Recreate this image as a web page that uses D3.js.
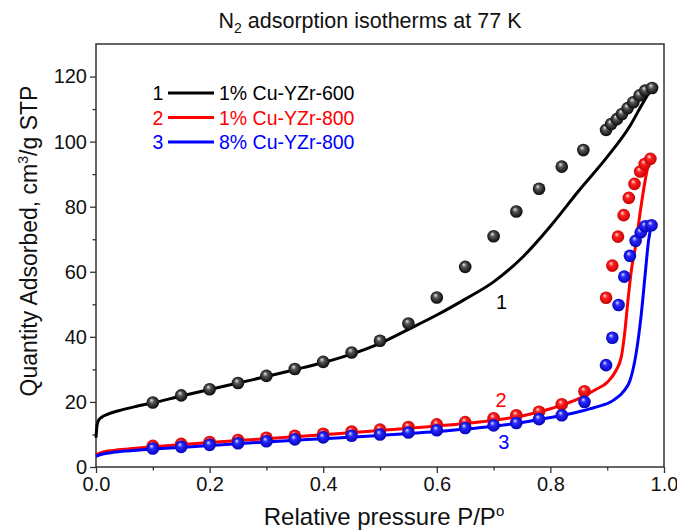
<!DOCTYPE html>
<html>
<head>
<meta charset="utf-8">
<script src="https://cdn.jsdelivr.net/npm/d3@7"></script>
<style>
  body { margin: 0; background: #fff; }
  svg { display: block; font-family: "Liberation Sans", Arial, sans-serif; }
</style>
</head>
<body>
<svg id="chart" width="677" height="531"></svg>
<script>
// series labels and colours
const names = ["1% Cu-YZr-600", "1% Cu-YZr-800", "8% Cu-YZr-800"];
const numbers = ["1", "2", "3"];
const colors = ["#000000", "#ff0000", "#0000ff"];

// fitted lines, [P/Po, quantity]
const line_600 = [[0,9],[0.002,13],[0.005,14.5],[0.01,15.3],[0.02,16.2],[0.04,17.3],[0.07,18.6],[0.1,19.7],
  [0.15,21.8],[0.2,23.8],[0.25,25.8],[0.3,27.8],[0.35,29.9],[0.4,32.1],[0.45,34.7],[0.5,38.0],[0.55,42.3],
  [0.6,46.7],[0.65,51.6],[0.7,56.9],[0.75,64.3],[0.8,74.0],[0.85,84.9],[0.9,95.3],[0.94,104.8],[0.96,111],
  [0.97,114],[0.978,116.4]];
const line_800 = [[0,3.8],[0.01,4.5],[0.03,5.1],[0.06,5.6],[0.1,6.2],[0.2,7.5],[0.3,8.7],[0.4,9.9],[0.5,11.2],
  [0.6,12.6],[0.7,14.4],[0.75,15.7],[0.8,17.9],[0.85,21.0],[0.88,23.8],[0.9,26.0],[0.915,29.5],[0.925,34],
  [0.93,40],[0.937,52],[0.943,61],[0.95,68],[0.957,77],[0.963,84],[0.97,91],[0.976,94.8]];
const line_8_800 = [[0,3.3],[0.01,3.9],[0.03,4.5],[0.06,5.0],[0.1,5.5],[0.2,6.6],[0.3,7.7],[0.4,8.7],[0.5,9.7],
  [0.6,10.9],[0.7,12.5],[0.75,13.7],[0.8,15.2],[0.85,17.0],[0.88,18.4],[0.91,20.4],[0.93,23.5],[0.94,26.5],
  [0.951,35],[0.96,47],[0.967,59.5],[0.973,69.8],[0.978,74.3]];

// measured points
const pts_600 = [[0.1,19.8],[0.15,22.0],[0.2,23.9],[0.25,25.8],[0.3,28.0],[0.35,30.1],[0.4,32.3],[0.45,35.2],
  [0.5,38.8],[0.55,44.1],[0.6,52.1],[0.65,61.5],[0.7,70.9],[0.74,78.5],[0.78,85.5],[0.82,92.3],[0.858,97.4],
  [0.898,103.6],[0.907,105.4],[0.917,106.9],[0.926,108.5],[0.936,110.3],[0.946,112.1],[0.957,114.2],
  [0.967,115.7],[0.979,116.5]];
const pts_800 = [[0.1,6.5],[0.15,7.1],[0.2,7.7],[0.25,8.3],[0.3,9.0],[0.35,9.6],[0.4,10.2],[0.45,10.9],[0.5,11.5],
  [0.55,12.3],[0.6,13.1],[0.65,13.8],[0.7,15.0],[0.74,15.9],[0.78,17.0],[0.82,19.3],[0.86,23.3],[0.898,52],
  [0.909,61.9],[0.919,70.8],[0.929,77.4],[0.938,82.7],[0.948,87],[0.958,90.8],[0.966,93.1],[0.976,94.7]];
const pts_8_800 = [[0.1,5.7],[0.15,6.2],[0.2,6.8],[0.25,7.3],[0.3,7.9],[0.35,8.5],[0.4,9.1],[0.45,9.6],[0.5,10.0],
  [0.55,10.6],[0.6,11.3],[0.65,12.0],[0.7,12.8],[0.74,13.5],[0.78,14.7],[0.82,15.9],[0.86,20.0],[0.898,31.3],
  [0.909,39.7],[0.92,49.8],[0.93,58.5],[0.94,64.9],[0.95,69.5],[0.959,72.1],[0.967,74.0],[0.978,74.3]];

// where the curve numbers sit, [P/Po, quantity]
const curve_tags = [[0.714, 48.6], [0.713, 18.5], [0.718, 5.6]];

const x_major = [0, 0.2, 0.4, 0.6, 0.8, 1.0];
const x_minor = [0.1, 0.3, 0.5, 0.7, 0.9];
const y_major = [0, 20, 40, 60, 80, 100, 120];
const y_minor = [10, 30, 50, 70, 90, 110];

const lines = [line_600, line_800, line_8_800];
const points = [pts_600, pts_800, pts_8_800];

const marginLeft = 96, marginRight = 13, marginTop = 44, marginBottom = 64;
const W = 677, H = 531;

const svg = d3.select("#chart");

const x = d3.scaleLinear().domain([0, 1]).range([marginLeft, W - marginRight]);
const y = d3.scaleLinear().domain([0, 130]).range([H - marginBottom, marginTop]);

// sphere gradients
const defs = svg.append("defs");
const shades = [["#e8e8e8", "#555", "#000"], ["#ffe0e0", "#ff2020", "#c00000"], ["#e0e0ff", "#2828ff", "#0000b0"]];
shades.forEach((s, i) => {
  const g = defs.append("radialGradient").attr("id", "ball" + i)
    .attr("cx", "50%").attr("cy", "50%").attr("r", "55%")
    .attr("fx", "38%").attr("fy", "30%");
  g.append("stop").attr("offset", "0%").attr("stop-color", s[0]);
  g.append("stop").attr("offset", "35%").attr("stop-color", s[1]);
  g.append("stop").attr("offset", "100%").attr("stop-color", s[2]);
});

// axes
const tick_font = 20;
svg.append("g").attr("transform", `translate(0,${y(0)})`)
  .call(d3.axisBottom(x).tickValues(x_major).tickSize(6).tickSizeOuter(0).tickPadding(4).tickFormat(d3.format(".1f")));
svg.append("g").attr("transform", `translate(0,${y(0)})`)
  .call(d3.axisBottom(x).tickValues(x_minor).tickSize(3.5).tickSizeOuter(0).tickFormat(""));
svg.append("g").attr("transform", `translate(${x(0)},0)`)
  .call(d3.axisLeft(y).tickValues(y_major).tickSize(6).tickSizeOuter(0).tickPadding(3));
svg.append("g").attr("transform", `translate(${x(0)},0)`)
  .call(d3.axisLeft(y).tickValues(y_minor).tickSize(3.5).tickSizeOuter(0).tickFormat(""));

svg.selectAll(".domain").remove();
svg.selectAll(".tick line").attr("stroke", "#333").attr("stroke-width", 1.3);
svg.selectAll(".tick text").attr("font-size", tick_font).attr("fill", "#111")
  .attr("font-family", "'Liberation Sans', Arial, sans-serif");

// frame
svg.append("rect")
  .attr("x", x(0)).attr("y", y(130))
  .attr("width", x(1) - x(0)).attr("height", y(0) - y(130))
  .attr("fill", "none").attr("stroke", "#333").attr("stroke-width", 1.5);

// lines and balls
const line = d3.line().x(d => x(d[0])).y(d => y(d[1])).curve(d3.curveMonotoneX);
const plot = svg.append("g");

lines.forEach((data, i) => {
  plot.append("path").datum(data)
    .attr("d", line)
    .attr("fill", "none")
    .attr("stroke", colors[i])
    .attr("stroke-width", 3);
});
points.forEach((data, i) => {
  plot.selectAll(".ball" + i).data(data).enter().append("circle")
    .attr("class", "ball" + i)
    .attr("cx", d => x(d[0]))
    .attr("cy", d => y(d[1]))
    .attr("r", 6.3)
    .attr("fill", `url(#ball${i})`);
});

// curve numbers
svg.selectAll(".tag").data(curve_tags).enter().append("text")
  .attr("class", "tag")
  .attr("x", d => x(d[0])).attr("y", d => y(d[1]))
  .attr("text-anchor", "middle")
  .attr("font-size", 20)
  .attr("fill", (d, i) => colors[i])
  .text((d, i) => numbers[i]);

// legend
const legend = svg.append("g");
names.forEach((name, i) => {
  const cy = 93 + i * 24.5;
  const row = legend.append("g").attr("fill", colors[i]);
  row.append("text").attr("x", 158).attr("y", cy + 7).attr("text-anchor", "middle")
    .attr("font-size", 19.5).text(numbers[i]);
  row.append("line").attr("x1", 168).attr("x2", 214).attr("y1", cy).attr("y2", cy)
    .attr("stroke", colors[i]).attr("stroke-width", 3);
  row.append("text").attr("x", 219).attr("y", cy + 7).attr("font-size", 19.5).text(name);
});

// title
const title = svg.append("text")
  .attr("x", 370).attr("y", 28)
  .attr("text-anchor", "middle")
  .attr("font-size", 21.5).attr("fill", "#111");
title.append("tspan").text("N");
title.append("tspan").attr("font-size", 14).attr("dy", 5).text("2");
title.append("tspan").attr("dy", -5).text(" adsorption isotherms at 77 K");

// axis titles
const xt = svg.append("text")
  .attr("x", 384).attr("y", 525)
  .attr("text-anchor", "middle")
  .attr("font-size", 24).attr("fill", "#111");
xt.append("tspan").text("Relative pressure P/P");
xt.append("tspan").attr("font-size", 15).attr("dy", -9).text("o");

const yt = svg.append("text")
  .attr("transform", `translate(37,241) rotate(-90)`)
  .attr("text-anchor", "middle")
  .attr("font-size", 23).attr("fill", "#111");
yt.append("tspan").text("Quantity Adsorbed, cm");
yt.append("tspan").attr("font-size", 14).attr("dy", -9).text("3");
yt.append("tspan").attr("dy", 9).text("/g STP");
</script>
</body>
</html>
